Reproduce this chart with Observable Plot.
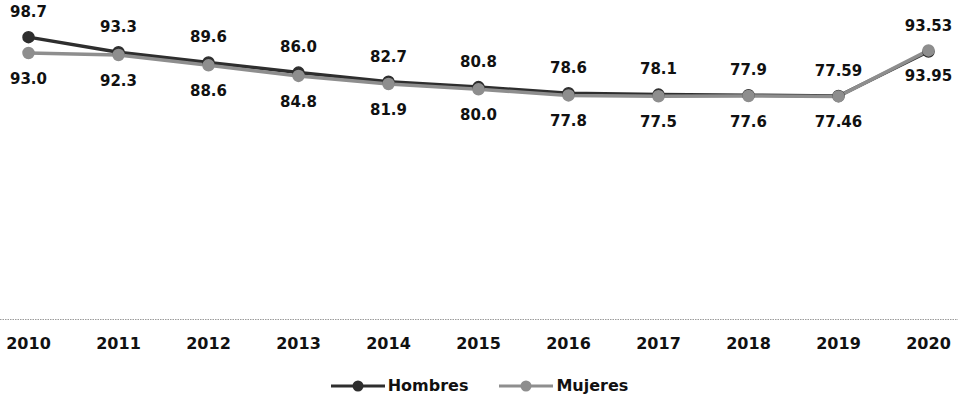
<!DOCTYPE html>
<html>
<head>
<meta charset="utf-8">
<script src="https://cdn.jsdelivr.net/npm/d3@7"></script>
<script src="https://cdn.jsdelivr.net/npm/@observablehq/plot@0.6"></script>
<style>
  html, body { margin: 0; padding: 0; background: #fff; }
  #chart { width: 958px; }
  .legend { display: flex; justify-content: center; align-items: center; gap: 30px;
    font-family: "DejaVu Sans", Verdana, sans-serif; font-weight: bold; font-size: 16px; color: #111;
    height: 35px; margin-top: 3px; }
  .legend span { display: inline-flex; align-items: center; gap: 2px; }
</style>
</head>
<body>
<div id="chart"></div>
<div class="legend" id="legend"></div>
<script>
const years = [2010, 2011, 2012, 2013, 2014, 2015, 2016, 2017, 2018, 2019, 2020];
const hombres = [98.7, 93.3, 89.6, 86.0, 82.7, 80.8, 78.6, 78.1, 77.9, 77.59, 93.53];
const mujeres = [93.0, 92.3, 88.6, 84.8, 81.9, 80.0, 77.8, 77.5, 77.6, 77.46, 93.95];
const seriesNames = ["Hombres", "Mujeres"];
const seriesColors = ["#2e2e2e", "#8e8e8e"];

const rows = [];
years.forEach((y, i) => {
  rows.push({year: y, value: hombres[i], serie: seriesNames[0]});
  rows.push({year: y, value: mujeres[i], serie: seriesNames[1]});
});
const fmt = v => {
  const dec = String(v).split(".")[1];
  return v.toFixed(dec && dec.length > 1 ? 2 : 1);
};
const H = rows.filter(d => d.serie === "Hombres");
const M = rows.filter(d => d.serie === "Mujeres");
const font = "DejaVu Sans, Verdana, sans-serif";

const chart = Plot.plot({
  width: 958,
  height: 365,
  marginLeft: 28,
  marginRight: 30,
  marginTop: 33,
  marginBottom: 46,
  style: {fontFamily: font, background: "#fff"},
  x: {domain: [2010, 2020], axis: null},
  y: {domain: [0, 100], axis: null, insetBottom: 7},
  color: {domain: seriesNames, range: seriesColors},
  marks: [
    Plot.ruleY([0], {dy: 7, stroke: "#9a9a9a", strokeWidth: 1, strokeDasharray: "1.5,1", insetLeft: -28, insetRight: -30}),
    Plot.axisX({ticks: years, tickSize: 0, tickPadding: 18, tickFormat: "d", label: null, fontSize: 16, fontWeight: "bold", fill: "#111"}),
    Plot.line(H, {x: "year", y: "value", stroke: seriesColors[0], strokeWidth: 3.5}),
    Plot.line(M, {x: "year", y: "value", stroke: seriesColors[1], strokeWidth: 3.5}),
    Plot.dot(H, {x: "year", y: "value", r: 5.5, fill: seriesColors[0], stroke: seriesColors[0]}),
    Plot.dot(M, {x: "year", y: "value", r: 5.5, fill: seriesColors[1], stroke: seriesColors[1]}),
    Plot.text(H, {x: "year", y: "value", text: d => fmt(d.value), dy: -25, fontSize: 15, fontWeight: "bold", fill: "#111"}),
    Plot.text(M, {x: "year", y: "value", text: d => fmt(d.value), dy: 26, fontSize: 15, fontWeight: "bold", fill: "#111"})
  ]
});
document.getElementById("chart").appendChild(chart);

const legend = document.getElementById("legend");
seriesNames.forEach((name, i) => {
  const span = document.createElement("span");
  const c = seriesColors[i];
  span.innerHTML = `<svg width="56" height="14"><line x1="1" y1="7" x2="55" y2="7" stroke="${c}" stroke-width="3"/><circle cx="28" cy="7" r="5.5" fill="${c}"/></svg>${name}`;
  legend.appendChild(span);
});
</script>
</body>
</html>
